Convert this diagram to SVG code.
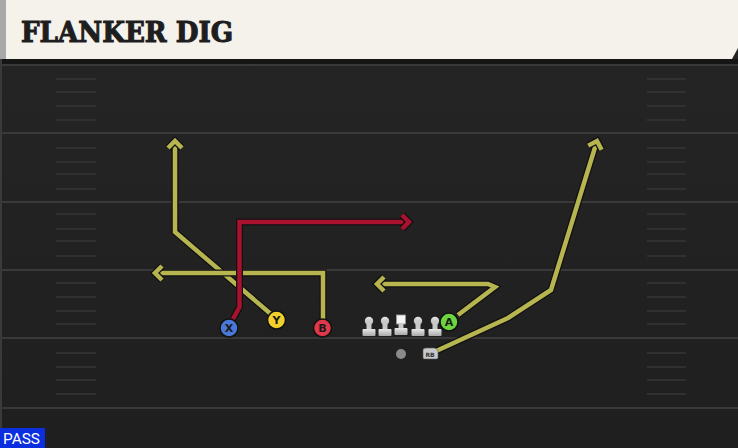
<svg xmlns="http://www.w3.org/2000/svg" width="738" height="448" viewBox="0 0 738 448">
<defs>
<linearGradient id="field" x1="0" y1="0" x2="0" y2="1">
<stop offset="0" stop-color="#252525"/>
<stop offset="1" stop-color="#1f1f1f"/>
</linearGradient>
<linearGradient id="lin" x1="0" y1="0" x2="0" y2="1">
<stop offset="0" stop-color="#e8e8e8"/>
<stop offset="1" stop-color="#a9a9a9"/>
</linearGradient>
<marker id="ay" markerUnits="userSpaceOnUse" viewBox="-12 -12 24 24" markerWidth="24" markerHeight="24" refX="0" refY="0" orient="auto">
<path d="M-7,-7 L0,0 L-7,7" fill="none" stroke="#111" stroke-width="7" stroke-linejoin="miter"/>
<path d="M-7,-7 L0,0 L-7,7" fill="none" stroke="#b7b550" stroke-width="4.5" stroke-linejoin="miter"/>
</marker>
<marker id="ar" markerUnits="userSpaceOnUse" viewBox="-12 -12 24 24" markerWidth="24" markerHeight="24" refX="0" refY="0" orient="auto">
<path d="M-7,-7 L0,0 L-7,7" fill="none" stroke="#111" stroke-width="7" stroke-linejoin="miter"/>
<path d="M-7,-7 L0,0 L-7,7" fill="none" stroke="#a8122e" stroke-width="4.5" stroke-linejoin="miter"/>
</marker>
<g id="lineman">
<circle cx="0" cy="-5" r="4.2" fill="url(#lin)"/>
<rect x="-2.5" y="-5" width="5" height="9" fill="#c9c9c9"/>
<rect x="-6.5" y="3" width="13" height="7" rx="1" fill="url(#lin)"/>
</g>
</defs>
<style>
.yard{stroke:#393939;stroke-width:2}
.hash{stroke:#363636;stroke-width:1.6}
.rt{fill:none;stroke-linejoin:miter}
.ol{stroke:#111;stroke-width:7}
.yl{stroke:#b7b550;stroke-width:4.5}
.rd{stroke:#a8122e;stroke-width:4.5}
.pc{stroke:#111;stroke-width:1.5}
.pl{font-family:"DejaVu Sans",sans-serif;font-weight:bold;font-size:11px;fill:#1a1a1a;text-anchor:middle}
</style>
<rect x="0" y="0" width="738" height="448" fill="url(#field)"/>
<rect x="0" y="59" width="738" height="5" fill="#161616"/>
<rect x="0" y="59" width="2" height="389" fill="#3a3a3a"/>
<g id="yardlines">
<line class="yard" x1="0" y1="65" x2="738" y2="65"/>
<line class="yard" x1="0" y1="133" x2="738" y2="133"/>
<line class="yard" x1="0" y1="202" x2="738" y2="202"/>
<line class="yard" x1="0" y1="270" x2="738" y2="270"/>
<line class="yard" x1="0" y1="338" x2="738" y2="338"/>
<line class="yard" x1="0" y1="408" x2="738" y2="408"/>
</g>
<g id="hashes">
<path class="hash" d="M56,79H96M56,92H96M56,106H96M56,120H96M56,148H96M56,162H96M56,174H96M56,189H96M56,214H96M56,229H96M56,241H96M56,256H96M56,283H96M56,297H96M56,311H96M56,324H96M56,353H96M56,367H96M56,380H96M56,394H96"/>
<path class="hash" d="M647,79H686M647,92H686M647,106H686M647,120H686M647,148H686M647,162H686M647,174H686M647,189H686M647,214H686M647,229H686M647,241H686M647,256H686M647,283H686M647,297H686M647,311H686M647,324H686M647,353H686M647,367H686M647,380H686M647,394H686"/>
</g>
<g id="header">
<polygon points="6,0 738,0 738,48 732,59 6,59" fill="#f5f2eb"/>
<rect x="0" y="0" width="6" height="59" fill="#a8a8a8"/>
<text x="21" y="42" font-family="'DejaVu Serif','Liberation Serif',serif" font-weight="900" font-size="28" fill="#1e1e1e" stroke="#1e1e1e" stroke-width="1.1" textLength="212" lengthAdjust="spacingAndGlyphs">FLANKER DIG</text>
</g>
<g id="connectors">
<path class="rt ol" d="M272,315 L175,232 L175,141"/>
<path class="rt yl" d="M272,315 L175,232 L175,141" marker-end="url(#ay)"/>
<path class="rt ol" d="M323,320 L323,273 L155,273"/>
<path class="rt yl" d="M323,320 L323,273 L155,273" marker-end="url(#ay)"/>
<path class="rt ol" d="M233,319 L239.5,307 L239.5,222 L409,222"/>
<path class="rt rd" d="M233,319 L239.5,307 L239.5,222 L409,222" marker-end="url(#ar)"/>
<path class="rt ol" d="M458,315 L495,287 L488,284 L377,284"/>
<path class="rt yl" d="M458,315 L495,287 L488,284 L377,284" marker-end="url(#ay)"/>
<path class="rt ol" d="M434,352 L508,318 L551,290 L597,141"/>
<path class="rt yl" d="M434,352 L508,318 L551,290 L597,141" marker-end="url(#ay)"/>
</g>
<g id="line">
<use href="#lineman" x="369" y="326"/>
<use href="#lineman" x="385" y="326"/>
<g id="center">
<rect x="396.5" y="315" width="9" height="9" fill="#f4f4f4" stroke="#999" stroke-width="0.8"/>
<rect x="398.5" y="323" width="5" height="6" fill="#c9c9c9"/>
<rect x="394.5" y="328" width="13" height="7" rx="1" fill="url(#lin)"/>
</g>
<use href="#lineman" x="418" y="326"/>
<use href="#lineman" x="435" y="326"/>
</g>
<g id="qb"><circle cx="401" cy="354" r="5" fill="#8a8a8a"/></g>
<g id="rb">
<path d="M423,350 Q423,348 426,348 L434,348 Q437,348 438,351 L438,358 Q438,359 436,359 L424,359 Q423,359 423,357 Z" fill="#c9c9c9" stroke="#555" stroke-width="0.6"/>
<text x="430" y="356.5" font-family="DejaVu Sans,sans-serif" font-weight="bold" font-size="6" fill="#333" text-anchor="middle">RB</text>
</g>
<g id="X"><circle class="pc" cx="229" cy="328" r="9" fill="#4a78d8"/><text class="pl" x="229" y="332">X</text></g>
<g id="Y"><circle class="pc" cx="276.5" cy="320" r="9" fill="#f2d02a"/><text class="pl" x="276.5" y="324">Y</text></g>
<g id="B"><circle class="pc" cx="322.5" cy="328" r="9" fill="#e0384a"/><text class="pl" x="322.5" y="332">B</text></g>
<g id="A"><circle class="pc" cx="449" cy="322" r="9" fill="#6cd43c"/><text class="pl" x="449" y="326">A</text></g>
<g id="pass">
<rect x="0" y="428" width="45" height="20" fill="#0b2fde"/>
<text x="3" y="444" font-family="Roboto,sans-serif" font-size="14" fill="#ffffff" textLength="37" lengthAdjust="spacingAndGlyphs">PASS</text>
</g>
</svg>
